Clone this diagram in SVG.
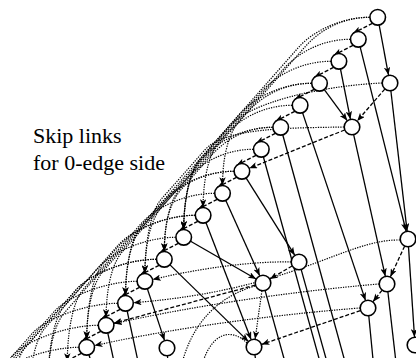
<svg xmlns="http://www.w3.org/2000/svg" xmlns:xlink="http://www.w3.org/1999/xlink" width="416" height="358" viewBox="0 0 416 358">
  <style>
    .n { fill: #fff; stroke: #000; stroke-width: 1.6; }
    .one { fill: none; stroke: #000; stroke-width: 1.3; }
    .zero { fill: none; stroke: #000; stroke-width: 1.3; stroke-dasharray: 4 2; }
    .skip { fill: none; stroke: #000; stroke-width: 1.2; stroke-dasharray: 1.3 1.2; }
    .arr { marker-end: url(#ah); }
  </style>
  <defs>
    <marker id="ah" viewBox="0 0 10 8" refX="10" refY="4" markerWidth="8" markerHeight="6.4" orient="auto" markerUnits="userSpaceOnUse">
      <path d="M0,0 L10,4 L0,8 L2.5,4 z" fill="#000"/>
    </marker>
    <!-- skip link templates, drawn from the first chain node; placed along the chain by translation.
         s8* reach 8 nodes down, s10* 10 nodes, s6* 6 nodes; the letter sets the distance of the bundle from the chain -->
    <path id="s8a" class="skip arr" d="M369.7,17.3 C339.7,17.3 317.8,32.3 304.6,47.3 L239,121.6 C225.8,136.6 222.5,165.3 222.5,185.3"/>
    <path id="s8b" class="skip arr" d="M369.7,17.3 C339.7,17.3 315.8,32.3 302.6,47.3 L239,119.4 C225.8,134.4 222.5,165.3 222.5,185.3"/>
    <path id="s8c" class="skip arr" d="M369.7,17.3 C339.7,17.3 313.8,32.3 300.6,47.3 L239,117.1 C225.8,132.1 222.5,165.3 222.5,185.3"/>
    <path id="s8d" class="skip arr" d="M369.7,17.3 C339.7,17.3 309.8,32.3 296.6,47.3 L239,112.6 C225.8,127.6 222.5,165.3 222.5,185.3"/>
    <path id="s8e" class="skip arr" d="M369.7,17.3 C339.7,17.3 305.8,32.3 292.6,47.3 L239,108 C225.8,123 222.5,165.3 222.5,185.3"/>
    <path id="s8f" class="skip arr" d="M369.7,17.3 C339.7,17.3 303.2,32.3 290,47.3 L239,105 C225.8,120 222.5,165.3 222.5,185.3"/>
    <path id="s8g" class="skip arr" d="M369.7,17.3 C339.7,17.3 300.5,32.3 287.3,47.3 L239,102 C225.8,117 222.5,165.3 222.5,185.3"/>
    <path id="s8h" class="skip arr" d="M369.7,17.3 C339.7,17.3 297.8,32.3 284.6,47.3 L239,99 C225.8,114 222.5,165.3 222.5,185.3"/>
    <path id="s10a" class="skip arr" d="M369.7,17.3 C339.7,17.3 311.8,32.3 298.6,47.3 L200.2,158.8 C187,173.8 183.7,209.3 183.7,229.3"/>
    <path id="s10b" class="skip arr" d="M369.7,17.3 C339.7,17.3 303.2,32.3 290,47.3 L200.2,149 C187,164 183.7,209.3 183.7,229.3"/>
    <path id="s6a" class="skip arr" d="M369.7,17.3 C339.7,17.3 319.8,32.3 306.6,47.3 L277.8,79.9 C264.6,94.9 261.3,121.3 261.3,141.3"/>
    <path id="s6b" class="skip arr" d="M369.7,17.3 C339.7,17.3 307.2,32.3 294,47.3 L277.8,65.5 C264.6,80.5 261.3,121.3 261.3,141.3"/>
  </defs>

  <g id="connectors">
    <!-- skip links for the 0-edge side -->
    <g id="skip-links">
      <use xlink:href="#s8a"/>
      <use xlink:href="#s10a"/>
      <use xlink:href="#s8b" transform="translate(-19.4,22)"/>
      <use xlink:href="#s8c" transform="translate(-38.8,44)"/>
      <use xlink:href="#s8a" transform="translate(-58.2,66)"/>
      <use xlink:href="#s10a" transform="translate(-58.2,66)"/>
      <use xlink:href="#s8b" transform="translate(-77.6,88)"/>
      <use xlink:href="#s8c" transform="translate(-97,110)"/>
      <use xlink:href="#s6a" transform="translate(-97,110)"/>
      <use xlink:href="#s8b" transform="translate(-116.4,132)"/>
      <use xlink:href="#s8c" transform="translate(-135.8,154)"/>
      <use xlink:href="#s10a" transform="translate(-135.8,154)"/>
      <use xlink:href="#s8d" transform="translate(-155.2,176)"/>
      <use xlink:href="#s8e" transform="translate(-174.6,198)"/>
      <use xlink:href="#s6b" transform="translate(-174.6,198)"/>
      <use xlink:href="#s8e" transform="translate(-194,220)"/>
      <use xlink:href="#s8f" transform="translate(-213.4,242)"/>
      <use xlink:href="#s10b" transform="translate(-213.4,242)"/>
      <use xlink:href="#s8g" transform="translate(-232.8,264)"/>
      <use xlink:href="#s8h" transform="translate(-252.2,286)"/>
      <use xlink:href="#s8h" transform="translate(-271.6,308)"/>
      <use xlink:href="#s8h" transform="translate(-291,330)"/>
      <path class="skip arr" d="M382,83 C320,86 250.6,102.5 230.8,125 L200.2,159.6 C187,174.6 183.7,209.3 183.7,229.3"/>
      <path class="skip arr" d="M344,127 C290,128 224.6,127.5 204.8,150 L161.4,199 C148.2,214 144.9,253.3 144.9,273.3"/>
      <path class="skip arr" d="M291,262 C255,261 200,268 152.7,279.5"/>
      <path class="skip arr" d="M400,240 C345,239 295,290 133.5,302.7"/>
      <path class="skip arr" d="M379,284 C330,288 220,300 113.9,323.6"/>
      <path class="skip arr" d="M360,308 C320,311 200,322 94.5,345.6"/>
      <path class="skip arr" d="M261.9,290.9 L255.1,339.1"/>
      <path class="skip" d="M247,343 C232,328 210,330 200,372"/>
      <path class="skip" d="M255,286 C220,296 190,322 180,372"/>
    </g>

    <!-- 0-edges -->
    <g id="zero-edges">
      <path class="zero arr" d="M372.4,23.3 L353,33.3"/>
      <path class="zero arr" d="M353,45.3 L333.6,55.3"/>
      <path class="zero arr" d="M333.6,67.3 L314.2,77.3"/>
      <path class="zero arr" d="M314.2,89.3 L294.8,99.3"/>
      <path class="zero arr" d="M294.8,111.3 L275.4,121.3"/>
      <path class="zero arr" d="M275.4,133.3 L256,143.3"/>
      <path class="zero arr" d="M256,155.3 L236.6,165.3"/>
      <path class="zero arr" d="M236.6,177.3 L217.2,187.3"/>
      <path class="zero arr" d="M217.2,199.3 L197.8,209.3"/>
      <path class="zero arr" d="M197.8,221.3 L178.4,231.3"/>
      <path class="zero arr" d="M178.4,243.3 L159,253.3"/>
      <path class="zero arr" d="M159,265.3 L139.6,275.3"/>
      <path class="zero arr" d="M139.6,287.3 L120.2,297.3"/>
      <path class="zero arr" d="M120.2,309.3 L100.8,319.3"/>
      <path class="zero arr" d="M100.8,331.3 L81.4,341.3"/>
      <path class="zero arr" d="M81.4,353.3 L62,363.3"/>
      <path class="zero arr" d="M384.8,89.1 L357.2,120.9"/>
      <path class="zero arr" d="M344.6,130 L249.3,168.3"/>
      <path class="zero arr" d="M404.6,246.2 L390.4,276.8"/>
      <path class="zero arr" d="M382,290.3 L373,301.7"/>
      <path class="zero arr" d="M360.4,310.6 L261.6,344.4"/>
      <path class="zero arr" d="M292.1,266 L269.9,279"/>
      <path class="zero arr" d="M255.3,285.1 L113.8,323.2"/>
    </g>

    <!-- 1-edges -->
    <g id="one-edges">
      <path class="one arr" d="M379.2,25.2 L388.5,75.1"/>
      <path class="one arr" d="M360.2,47.1 L406.1,231.2"/>
      <path class="one arr" d="M340.5,69.1 L350.4,119.2"/>
      <path class="one arr" d="M324.3,89.7 L347.2,120.6"/>
      <path class="one arr" d="M302.6,112.9 L365.5,300.4"/>
      <path class="one" d="M282.8,135 L350,380"/>
      <path class="one" d="M263.4,157 L325,380"/>
      <path class="one arr" d="M246.2,178.1 L294.7,255.2"/>
      <path class="one arr" d="M225.8,200.6 L259.7,275.7"/>
      <path class="one arr" d="M206,222.8 L251.1,339.5"/>
      <path class="one arr" d="M190.6,241.3 L256.1,279"/>
      <path class="one arr" d="M170,264.9 L248.3,341.4"/>
      <path class="one arr" d="M147.4,288.9 L164.5,340.4"/>
      <path class="one" d="M127.2,311.1 L142,380"/>
      <path class="one" d="M107.8,333.1 L118,380"/>
      <path class="one" d="M89,355 L97,380"/>
      <path class="one arr" d="M390.9,91 L407.1,231.1"/>
      <path class="one arr" d="M353.7,134.8 L385.3,276.2"/>
      <path class="one arr" d="M408.5,247 L414.5,337"/>
      <path class="one" d="M387.9,292 L398,380"/>
      <path class="one" d="M368.8,316 L375,380"/>
      <path class="one" d="M301.2,269.7 L332,380"/>
      <path class="one" d="M265.1,290.7 L290,380"/>
      <path class="one" d="M255,355 L258,380"/>
      <path class="one" d="M167.5,356 L169,380"/>
    </g>
  </g>

  <!-- main chain -->
  <g id="n1"><circle class="n" cx="377.7" cy="17.3" r="7.8"/></g>
  <g id="n2"><circle class="n" cx="358.3" cy="39.3" r="7.8"/></g>
  <g id="n3"><circle class="n" cx="338.9" cy="61.3" r="7.8"/></g>
  <g id="n4"><circle class="n" cx="319.5" cy="83.3" r="7.8"/></g>
  <g id="n5"><circle class="n" cx="300.1" cy="105.3" r="7.8"/></g>
  <g id="n6"><circle class="n" cx="280.7" cy="127.3" r="7.8"/></g>
  <g id="n7"><circle class="n" cx="261.3" cy="149.3" r="7.8"/></g>
  <g id="n8"><circle class="n" cx="241.9" cy="171.3" r="7.8"/></g>
  <g id="n9"><circle class="n" cx="222.5" cy="193.3" r="7.8"/></g>
  <g id="n10"><circle class="n" cx="203.1" cy="215.3" r="7.8"/></g>
  <g id="n11"><circle class="n" cx="183.7" cy="237.3" r="7.8"/></g>
  <g id="n12"><circle class="n" cx="164.3" cy="259.3" r="7.8"/></g>
  <g id="n13"><circle class="n" cx="144.9" cy="281.3" r="7.8"/></g>
  <g id="n14"><circle class="n" cx="125.5" cy="303.3" r="7.8"/></g>
  <g id="n15"><circle class="n" cx="106.1" cy="325.3" r="7.8"/></g>
  <g id="n16"><circle class="n" cx="86.7" cy="347.3" r="7.8"/></g>

  <!-- side nodes -->
  <g id="o1"><circle class="n" cx="390" cy="83" r="7.8"/></g>
  <g id="o2"><circle class="n" cx="352" cy="127" r="7.8"/></g>
  <g id="a"><circle class="n" cx="408" cy="239" r="7.8"/></g>
  <g id="b"><circle class="n" cx="387" cy="284" r="7.8"/></g>
  <g id="c"><circle class="n" cx="368" cy="308" r="7.8"/></g>
  <g id="d"><circle class="n" cx="299" cy="262" r="7.8"/></g>
  <g id="e"><circle class="n" cx="263" cy="283" r="7.8"/></g>
  <g id="f"><circle class="n" cx="254" cy="347" r="7.8"/></g>
  <g id="g"><circle class="n" cx="415" cy="345" r="7.8"/></g>
  <g id="h"><circle class="n" cx="167" cy="348" r="7.8"/></g>

  <g id="label" font-family="'Liberation Serif', 'Times New Roman', 'DejaVu Serif', serif" font-size="22" fill="#000">
    <text x="33" y="143">Skip links</text>
    <text x="33" y="170">for 0-edge side</text>
  </g>
</svg>
